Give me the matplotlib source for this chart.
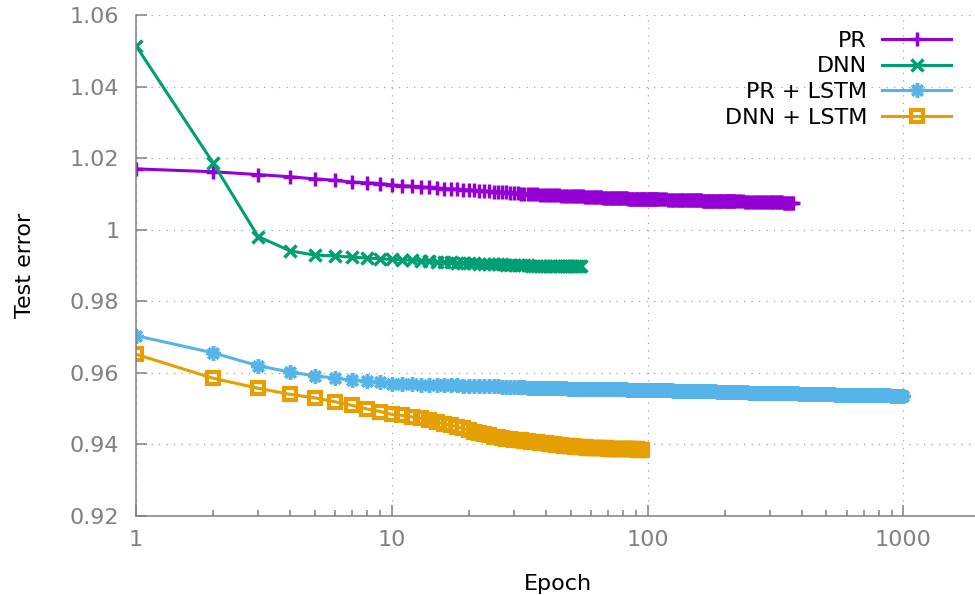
import matplotlib
matplotlib.use("Agg")
import matplotlib.pyplot as plt

# one point per epoch up to 110, then every 2nd / 5th / 10th epoch, where the
# markers already merge into one solid band on the log axis
pr_epochs = list(range(1, 111)) + list(range(112, 221, 2)) + list(range(225, 371, 5))
pr_err = [
    1.0170, 1.0162, 1.0154, 1.0148, 1.0142, 1.0138, 1.0133, 1.0131, 1.0129, 1.0125,
    1.0123, 1.0121, 1.0119, 1.0118, 1.0116, 1.0115, 1.0114, 1.0113, 1.0112, 1.0111,
    1.0110, 1.0109, 1.0108, 1.0107, 1.0106, 1.0105, 1.0104, 1.0104, 1.0103, 1.0102,
    1.0102, 1.0101, 1.0101, 1.0100, 1.0100, 1.0099, 1.0099, 1.0098, 1.0098, 1.0097,
    1.0097, 1.0097, 1.0096, 1.0096, 1.0096, 1.0095, 1.0095, 1.0095, 1.0094, 1.0094,
    1.0094, 1.0094, 1.0093, 1.0093, 1.0093, 1.0093, 1.0092, 1.0092, 1.0092, 1.0092,
    1.0092, 1.0091, 1.0091, 1.0091, 1.0091, 1.0091, 1.0090, 1.0090, 1.0090, 1.0090,
    1.0090, 1.0089, 1.0089, 1.0089, 1.0089, 1.0089, 1.0088, 1.0088, 1.0088, 1.0088,
    1.0088, 1.0088, 1.0088, 1.0087, 1.0087, 1.0087, 1.0087, 1.0087, 1.0087, 1.0087,
    1.0086, 1.0086, 1.0086, 1.0086, 1.0086, 1.0086, 1.0086, 1.0086, 1.0086, 1.0086,
    1.0085, 1.0085, 1.0085, 1.0085, 1.0085, 1.0085, 1.0085, 1.0085, 1.0085, 1.0085,
    # 112..220 step 2
    1.0085, 1.0085, 1.0085, 1.0085, 1.0084, 1.0084, 1.0084, 1.0084, 1.0084, 1.0084,
    1.0083, 1.0083, 1.0083, 1.0083, 1.0083, 1.0083, 1.0083, 1.0083, 1.0082, 1.0082,
    1.0082, 1.0082, 1.0082, 1.0082, 1.0082, 1.0082, 1.0081, 1.0081, 1.0081, 1.0081,
    1.0081, 1.0081, 1.0081, 1.0081, 1.0081, 1.0081, 1.0080, 1.0080, 1.0080, 1.0080,
    1.0080, 1.0080, 1.0080, 1.0080, 1.0080, 1.0080, 1.0080, 1.0079, 1.0079, 1.0079,
    1.0079, 1.0079, 1.0079, 1.0079, 1.0079,
    # 225..370 step 5
    1.0079, 1.0079, 1.0079, 1.0078, 1.0078, 1.0078, 1.0078, 1.0078, 1.0078, 1.0078,
    1.0078, 1.0078, 1.0077, 1.0077, 1.0077, 1.0077, 1.0077, 1.0077, 1.0077, 1.0077,
    1.0077, 1.0077, 1.0077, 1.0076, 1.0076, 1.0076, 1.0076, 1.0076, 1.0076, 1.0076]

dnn_epochs = list(range(1, 56))
dnn_err = [
    1.0514, 1.0187, 0.9981, 0.9941, 0.9929, 0.9927, 0.9923, 0.9921, 0.9919, 0.9917,
    0.9916, 0.9914, 0.9913, 0.9912, 0.9911, 0.9910, 0.9909, 0.9908, 0.9907, 0.9907,
    0.9906, 0.9905, 0.9905, 0.9904, 0.9904, 0.9903, 0.9903, 0.9902, 0.9902, 0.9902,
    0.9901, 0.9901, 0.9901, 0.9901, 0.9900, 0.9900, 0.9900, 0.9900, 0.9900, 0.9900,
    0.9899, 0.9899, 0.9899, 0.9899, 0.9899, 0.9899, 0.9899, 0.9899, 0.9899, 0.9899,
    0.9899, 0.9898, 0.9898, 0.9898, 0.9898]

prl_epochs = (list(range(1, 111)) + list(range(112, 221, 2)) + list(range(225, 551, 5))
              + list(range(560, 1001, 10)))
prl_err = [
    0.9704, 0.9656, 0.9620, 0.9602, 0.9592, 0.9585, 0.9580, 0.9577, 0.9574, 0.9570,
    0.9569, 0.9568, 0.9567, 0.9567, 0.9566, 0.9566, 0.9565, 0.9565, 0.9564, 0.9564,
    0.9563, 0.9563, 0.9563, 0.9562, 0.9562, 0.9562, 0.9561, 0.9561, 0.9561, 0.9560,
    0.9560, 0.9560, 0.9560, 0.9559, 0.9559, 0.9559, 0.9559, 0.9558, 0.9558, 0.9558,
    0.9558, 0.9558, 0.9557, 0.9557, 0.9557, 0.9557, 0.9557, 0.9557, 0.9556, 0.9556,
    0.9556, 0.9556, 0.9556, 0.9556, 0.9556, 0.9555, 0.9555, 0.9555, 0.9555, 0.9555,
    0.9555, 0.9555, 0.9555, 0.9555, 0.9555, 0.9555, 0.9555, 0.9554, 0.9554, 0.9554,
    0.9554, 0.9554, 0.9554, 0.9554, 0.9554, 0.9554, 0.9554, 0.9554, 0.9554, 0.9554,
    0.9554, 0.9554, 0.9553, 0.9553, 0.9553, 0.9553, 0.9553, 0.9553, 0.9553, 0.9553,
    0.9553, 0.9553, 0.9553, 0.9553, 0.9552, 0.9552, 0.9552, 0.9552, 0.9552, 0.9552,
    0.9552, 0.9552, 0.9552, 0.9552, 0.9552, 0.9552, 0.9552, 0.9551, 0.9551, 0.9551,
    # 112..220 step 2
    0.9551, 0.9551, 0.9551, 0.9551, 0.9551, 0.9551, 0.9551, 0.9550, 0.9550, 0.9550,
    0.9550, 0.9550, 0.9550, 0.9550, 0.9550, 0.9550, 0.9550, 0.9549, 0.9549, 0.9549,
    0.9549, 0.9549, 0.9549, 0.9549, 0.9549, 0.9549, 0.9549, 0.9548, 0.9548, 0.9548,
    0.9548, 0.9548, 0.9548, 0.9548, 0.9548, 0.9548, 0.9548, 0.9547, 0.9547, 0.9547,
    0.9547, 0.9547, 0.9547, 0.9547, 0.9547, 0.9547, 0.9547, 0.9546, 0.9546, 0.9546,
    0.9546, 0.9546, 0.9546, 0.9546, 0.9546,
    # 225..550 step 5
    0.9546, 0.9546, 0.9546, 0.9546, 0.9546, 0.9545, 0.9545, 0.9545, 0.9545, 0.9545,
    0.9545, 0.9545, 0.9545, 0.9545, 0.9545, 0.9544, 0.9544, 0.9544, 0.9544, 0.9544,
    0.9544, 0.9544, 0.9544, 0.9544, 0.9543, 0.9543, 0.9543, 0.9543, 0.9543, 0.9543,
    0.9543, 0.9543, 0.9543, 0.9542, 0.9542, 0.9542, 0.9542, 0.9542, 0.9542, 0.9542,
    0.9542, 0.9542, 0.9541, 0.9541, 0.9541, 0.9541, 0.9541, 0.9541, 0.9541, 0.9541,
    0.9541, 0.9541, 0.9540, 0.9540, 0.9540, 0.9540, 0.9540, 0.9540, 0.9540, 0.9540,
    0.9540, 0.9540, 0.9540, 0.9539, 0.9539, 0.9539,
    # 560..1000 step 10
    0.9539, 0.9539, 0.9539, 0.9539, 0.9539, 0.9539, 0.9539, 0.9539, 0.9539, 0.9539,
    0.9538, 0.9538, 0.9538, 0.9538, 0.9538, 0.9538, 0.9538, 0.9538, 0.9538, 0.9538,
    0.9537, 0.9537, 0.9537, 0.9537, 0.9537, 0.9537, 0.9537, 0.9537, 0.9537, 0.9537,
    0.9537, 0.9537, 0.9537, 0.9536, 0.9536, 0.9536, 0.9536, 0.9536, 0.9536, 0.9536,
    0.9536, 0.9536, 0.9536, 0.9536, 0.9536]

dnnl_epochs = list(range(1, 96))
dnnl_err = [
    0.9652, 0.9585, 0.9557, 0.9540, 0.9530, 0.9519, 0.9509, 0.9499, 0.9492, 0.9484,
    0.9481, 0.9477, 0.9473, 0.9468, 0.9463, 0.9458, 0.9454, 0.9449, 0.9445, 0.9440,
    0.9436, 0.9432, 0.9428, 0.9425, 0.9422, 0.9420, 0.9418, 0.9416, 0.9414, 0.9413,
    0.9412, 0.9411, 0.9410, 0.9409, 0.9408, 0.9407, 0.9406, 0.9405, 0.9404, 0.9403,
    0.9402, 0.9401, 0.9400, 0.9399, 0.9399, 0.9398, 0.9397, 0.9396, 0.9396, 0.9395,
    0.9395, 0.9394, 0.9394, 0.9393, 0.9393, 0.9392, 0.9392, 0.9391, 0.9391, 0.9390,
    0.9390, 0.9390, 0.9390, 0.9390, 0.9389, 0.9389, 0.9389, 0.9389, 0.9389, 0.9388,
    0.9388, 0.9388, 0.9388, 0.9388, 0.9388, 0.9387, 0.9387, 0.9387, 0.9387, 0.9387,
    0.9387, 0.9387, 0.9387, 0.9386, 0.9386, 0.9386, 0.9386, 0.9386, 0.9386, 0.9386,
    0.9386, 0.9385, 0.9385, 0.9385, 0.9385]

yticks = [0.92, 0.94, 0.96, 0.98, 1.00, 1.02, 1.04, 1.06]
ytick_labels = ["0.92", "0.94", "0.96", "0.98", "1", "1.02", "1.04", "1.06"]
xticks = [1, 10, 100, 1000]
xtick_labels = ["1", "10", "100", "1000"]

fig = plt.figure(figsize=(9.75, 5.95), dpi=100)
ax = fig.add_axes([136/975, 1 - 516/595, (980.5 - 136)/975, 501/595])

ax.plot(pr_epochs, pr_err, color="#9400d3", lw=2.2, marker="+", ms=9.5, mew=2.5, label="PR")
ax.plot(dnn_epochs, dnn_err, color="#009e73", lw=2.2, marker="x", ms=9, mew=2.5, label="DNN")
ax.plot(prl_epochs, prl_err, color="#56b4e9", lw=2.2, marker=(8, 2, 0), ms=10.5, mew=2.5,
        label="PR + LSTM")
ax.plot(dnnl_epochs, dnnl_err, color="#e69f00", lw=2.2, marker="s", ms=8.5, mew=3,
        mfc="none", label="DNN + LSTM")

ax.set_xscale("log")
ax.set_xlim(1, 2000)
ax.set_ylim(0.92, 1.06)
ax.set_xticks(xticks, labels=xtick_labels)
ax.set_yticks(yticks, labels=ytick_labels)

gray = "#808080"
for s in ["top", "right"]:
    ax.spines[s].set_visible(False)
for s in ["left", "bottom"]:
    ax.spines[s].set_color(gray)
    ax.spines[s].set_linewidth(1.1)
ax.tick_params(which="major", direction="in", length=8, width=1.1, color=gray,
               labelcolor=gray, labelsize=16)
ax.tick_params(axis="x", which="major", pad=10)
ax.tick_params(axis="y", which="major", pad=12)
ax.tick_params(axis="x", which="minor", direction="in", length=4.5, width=1.1, color=gray)
ax.grid(which="major", color="#a0a0a0", lw=0.9, ls=(0, (1, 5)))

ax.set_xlabel("Epoch", fontsize=16)
ax.set_ylabel("Test error", fontsize=16)
ax.xaxis.set_label_coords(0.5, -0.116)
ax.yaxis.set_label_coords(-0.12, 0.5)

ax.legend(loc="upper right", bbox_to_anchor=(951/975, 0.948), bbox_transform=fig.transFigure,
          frameon=False, markerfirst=False, numpoints=1, fontsize=16, handlelength=3.1,
          handletextpad=0.68, labelspacing=0.25, borderpad=0, borderaxespad=0)

fig.savefig("out.png", dpi=100)
